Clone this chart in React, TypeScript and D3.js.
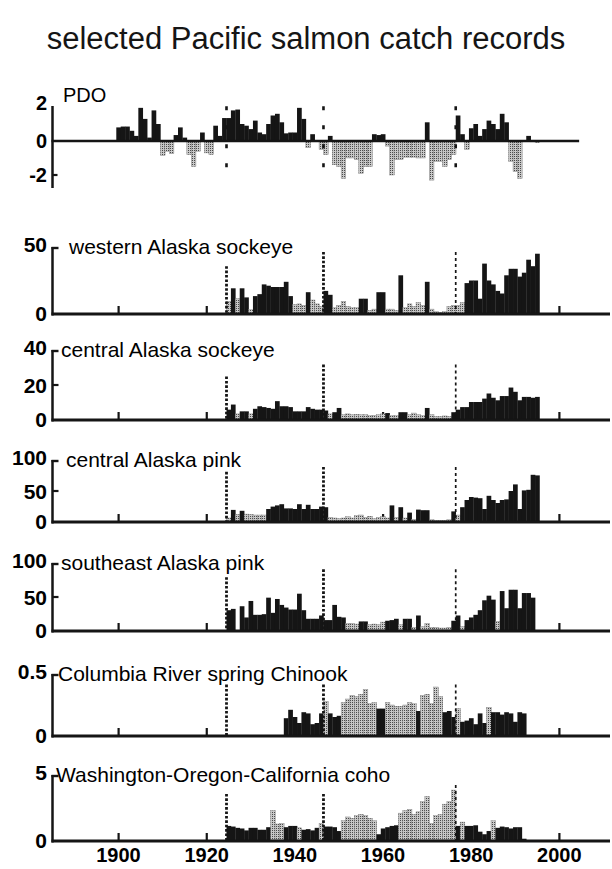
import React from 'react';
import * as d3 from 'd3';

// PDO index, 1900-1995
const pdoStart = 1900;
const pdoValues = [
  0.8, 0.85, 0.85, 0.6, 0.3, 1.95, 1.3, 0.2, 1.8, 1.0,
  -0.85, -0.6, -0.75, 0.35, 0.8, 0.2, -0.8, -1.5, -0.6, 0.5,
  -0.7, -0.8, 0.9, 0.3, 1.35, 1.35, 1.8, 1.85, 1.0, 0.9,
  0.7, 1.2, 0.5, 0.4, 1.0, 1.5, 1.6, 1.1, 0.45, 0.5,
  0.5, 1.95, 1.3, -0.4, 0.4, 0.05, -0.5, -0.8, 0.3, -1.4,
  -1.5, -2.2, -1.0, -1.0, -1.1, -1.9, -1.5, -1.5, 0.4, 0.35,
  0.4, -0.3, -2.0, -1.1, -1.1, -0.95, -0.95, -0.95, -1.0, -1.0,
  1.1, -2.3, -1.2, -1.2, -1.5, -1.1, -0.8, 1.5, 0.4, -0.5,
  0.75, 1.0, 0.3, 0.7, 1.2, 1.0, 0.7, 1.6, 1.1, -1.2,
  -1.8, -2.2, 0, 0.3, -0.05, -0.1
];

// western Alaska sockeye, 1925-1995
const wakStart = 1925;
const wakValues = [
  9, 19, 11, 19, 12, 2.5, 13, 14.5, 22, 21,
  20, 20, 20, 24, 13, 6.5, 7, 6, 16, 10,
  7, 5, 17, 14, 4, 6, 9, 5, 4, 4,
  11, 11, 2, 3, 16, 16, 3, 3, 2, 29,
  4, 7, 5, 8, 6, 24, 3, 1, 0.5, 1,
  5, 6, 6, 8, 23, 25, 25, 11, 38, 25,
  22, 17, 15, 29, 34, 34, 28, 31, 41, 36, 45.6
];
const wakShade = 'LDLDDLDDDD' + 'DDDDDLLLDL' + 'LLDDLLLLLL' + 'DDLLDDLLLD' + 'LLLLLDLLLL' + 'LLLLDDDDDD' + 'DDDDDDDDDDD';

// central Alaska sockeye, 1925-1995
const casStart = 1925;
const casValues = [
  5.5, 8.5, 3, 4.5, 4.5, 3, 6, 7.5, 7, 6.5,
  6, 10.5, 7.5, 7.5, 7, 4.5, 4.5, 4.5, 7, 6,
  5.5, 5.5, 5, 3, 4, 6.5, 2.5, 3, 2.5, 2.8,
  2.5, 2.5, 2, 2.2, 2.5, 3, 3.5, 2, 2, 4,
  4, 2.5, 3.5, 2.5, 2, 6.5, 2.5, 1.5, 1.5, 1.8,
  1.5, 4, 5.5, 7, 7, 10, 10, 10, 12, 15,
  12.5, 11, 13.5, 13.5, 18.5, 16, 11, 13, 13, 12.5, 13
];
const casShade = 'DDLDDLDDDD' + 'DDDDDDDDDD' + 'DDDLDDLLLL' + 'LLLLLLDLLD' + 'DLLLLDLLLL' + 'LDDDDDDDDD' + 'DDDDDDDDDDD';

// central Alaska pink, 1925-1995
const capStart = 1925;
const capValues = [
  5, 18.5, 11, 17, 11.5, 11, 10, 10, 10, 20,
  24, 26, 28, 21, 21, 20, 28, 20, 27, 20,
  20, 24, 23, 6, 5, 4, 5, 7, 5, 9,
  10, 6, 8, 4, 6, 7, 5, 26, 6, 23,
  5, 14, 3, 19, 18, 18, 2, 1, 1, 1,
  2, 16, 10, 23, 35, 40, 39, 38, 20, 42,
  35, 30, 35, 36, 50, 61, 20, 51, 52, 77, 76
];
const capShade = 'LDLDLLLLLD' + 'DDDDDDDDDD' + 'DDDLLLLLLL' + 'LLLLLLLDLD' + 'LDLDDDLLLL' + 'LDLDDDDDDD' + 'DDDDDDDDDDD';

// southeast Alaska pink, 1925-1994
const sepStart = 1925;
const sepValues = [
  30, 32, 0, 36, 19, 44, 23, 23, 24, 49,
  26, 47, 38, 34, 31, 31, 55, 30, 17, 17,
  17, 22, 15, 15, 38, 20, 19, 10, 10, 9,
  13, 13, 8, 9, 8, 12, 14, 15, 17, 8,
  17, 17, 4, 22, 5, 10, 4, 4, 3, 3,
  4, 14, 22, 5, 15, 19, 23, 30, 45, 52,
  46, 13, 59, 33, 61, 61, 33, 56, 56, 49
];
const sepShade = 'DDDDDDDDDD' + 'DDDDDDDDDD' + 'DDDDDDDLLL' + 'DDLLLLDDDL' + 'DDLDLLLLLL' + 'LDDLDDDDDD' + 'DLDDDDDDDD';

// Columbia River spring Chinook, 1938-1992
const chkStart = 1938;
const chkValues = [
  0.14, 0.21, 0.15, 0.10, 0.19, 0.18, 0.09, 0.10, 0.18, 0.28,
  0.18, 0.15, 0.16, 0.27, 0.30, 0.33, 0.32, 0.34, 0.38, 0.26,
  0.27, 0.22, 0.22, 0.27, 0.25, 0.24, 0.24, 0.25, 0.27, 0.26,
  0.20, 0.33, 0.34, 0.26, 0.40, 0.32, 0.19, 0.20, 0.15, 0.22,
  0.11, 0.12, 0.14, 0.09, 0.18, 0.10, 0.23, 0.19, 0.19, 0.17,
  0.19, 0.18, 0.11, 0.19, 0.18
];
const chkShade = 'DDDDDDDDDL' + 'DDDLLLLLLL' + 'LDDLLLLLLL' + 'DLLLLLDDDL' + 'DDDDDDLDDD' + 'DDDDD';

// Washington-Oregon-California coho, 1925-1992
const cohoStart = 1925;
const cohoValues = [
  1.1, 1.05, 0.95, 0.9, 0.75, 0.95, 0.95, 0.8, 0.8, 1.0,
  2.3, 1.25, 1.3, 1.0, 1.1, 1.1, 0.95, 0.8, 0.85, 0.75,
  0.95, 1.3, 1.05, 1.05, 1.0, 0.7, 1.5, 1.8, 1.7, 1.9,
  2.0, 1.9, 1.7, 1.5, 0.45, 0.9, 1.0, 1.1, 1.15, 2.1,
  2.3, 2.4, 2.0, 2.2, 3.0, 3.4, 1.3, 1.9, 2.0, 2.8,
  3.0, 3.9, 1.1, 1.4, 1.1, 1.1, 1.15, 0.65, 0.45, 0.7,
  1.5, 0.95, 1.05, 1.0, 0.9, 1.0, 1.0, 0.1
];
const cohoShade = 'DDDDDDDDDD' + 'LLLDDDLDDD' + 'DLDDDDLLLL' + 'LLLLDDDDDL' + 'LLLLLLLLLL' + 'LLDLDDDDDD' + 'LDDDDDDD';

const xTicks = [1900, 1920, 1940, 1960, 1980, 2000];
const regimeYears = [1924.5, 1946.5, 1976.5];

const W = 612;
const H = 869;
const ink = '#151515';
const font = '"Liberation Sans", Arial, Helvetica, sans-serif';

const x = d3.scaleLinear().domain([1884.8, 2011.5]).range([51.5, 610]);
const axisX = 52.5;

const panels = [
  { label: 'western Alaska sockeye', labelX: 69, start: wakStart, values: wakValues, shade: wakShade,
    max: 50, ticks: [50, 0], yTop: 248, yBase: 313, dashTops: [36, 47, 47] },
  { label: 'central Alaska sockeye', labelX: 61, start: casStart, values: casValues, shade: casShade,
    max: 40, ticks: [40, 20, 0], yTop: 351, yBase: 419, dashTops: [25, 32, 32] },
  { label: 'central Alaska pink', labelX: 66, start: capStart, values: capValues, shade: capShade,
    max: 100, ticks: [100, 50, 0], yTop: 461, yBase: 521, dashTops: [82, 90, 90] },
  { label: 'southeast Alaska pink', labelX: 61, start: sepStart, values: sepValues, shade: sepShade,
    max: 100, ticks: [100, 50, 0], yTop: 564, yBase: 630, dashTops: [80, 92, 92] },
  { label: 'Columbia River spring Chinook', labelX: 58, start: chkStart, values: chkValues, shade: chkShade,
    max: 0.5, ticks: [0.5, 0], yTop: 675, yBase: 735, dashTops: [0.42, 0.42, 0.42] },
  { label: 'Washington-Oregon-California coho', labelX: 56, start: cohoStart, values: cohoValues, shade: cohoShade,
    max: 5, ticks: [5, 0], yTop: 776, yBase: 840, dashTops: [3.6, 3.6, 4.3] }
];

function RegimeLine({ xp, y1, y2, k }: { xp: number; y1: number; y2: number; k: number }) {
  const thin = k === 2;
  return (
    <line x1={xp} x2={xp} y1={y1} y2={y2} stroke={ink}
      strokeWidth={thin ? 1.7 : 2.8} strokeDasharray={thin ? '3 3' : '2.6 1.8'} />
  );
}

function PdoPanel() {
  const y = d3.scaleLinear().domain([-2, 2]).range([175, 107]);
  const y0 = y(0);
  return (
    <g>
      {pdoValues.map((v, i) => {
        const yr = pdoStart + i;
        const x0 = x(yr - 0.5);
        const w = x(yr + 0.5) - x0 + 0.3;
        const top = Math.min(y(v), y0);
        const h = Math.abs(y(v) - y0);
        return <rect key={yr} x={x0} y={top} width={w} height={h}
          fill={v >= 0 ? ink : 'url(#stip)'} stroke={v >= 0 ? 'none' : '#777'} strokeWidth={0.4} />;
      })}
      {regimeYears.map((yr) => (
        <line key={yr} x1={x(yr)} x2={x(yr)} y1={y(2.05)} y2={y(-2.3)} stroke={ink}
          strokeWidth={2.6} strokeDasharray="4 15" />
      ))}
      <line x1={x(1884.8)} x2={x(2004.5)} y1={y0} y2={y0} stroke={ink} strokeWidth={2.6} />
      <line x1={axisX} x2={axisX} y1={y(2) - 1} y2={y(-2) + 13} stroke={ink} strokeWidth={2.5} />
      <line x1={axisX} x2={axisX + 5} y1={y(-2)} y2={y(-2)} stroke={ink} strokeWidth={2.2} />
      <text x={47} y={y(2) - 4} textAnchor="end" dominantBaseline="central" fontSize={20} fontWeight="bold">2</text>
      <text x={47} y={y0} textAnchor="end" dominantBaseline="central" fontSize={20} fontWeight="bold">0</text>
      <text x={47} y={y(-2)} textAnchor="end" dominantBaseline="central" fontSize={20} fontWeight="bold">-2</text>
      <text x={63} y={95} dominantBaseline="central" fontSize={20}>PDO</text>
    </g>
  );
}

function SalmonPanel({ p }: { p: typeof panels[number] }) {
  const y = d3.scaleLinear().domain([0, p.max]).range([p.yBase, p.yTop]);
  return (
    <g>
      {xTicks.map((t) => (
        <rect key={t} x={x(t) - 1} y={p.yBase - 7} width={2.2} height={7} fill={ink} />
      ))}
      {p.values.map((v, i) => {
        const yr = p.start + i;
        const x0 = x(yr - 0.5);
        const w = x(yr + 0.5) - x0 + 0.3;
        const dark = p.shade[i] === 'D';
        return <rect key={yr} x={x0} y={y(v)} width={w} height={p.yBase - y(v)}
          fill={dark ? ink : 'url(#stip)'} stroke={dark ? 'none' : '#777'} strokeWidth={0.4} />;
      })}
      {regimeYears.map((yr, k) => (
        <RegimeLine key={yr} xp={x(yr)} y1={y(p.dashTops[k])} y2={p.yBase} k={k} />
      ))}
      <line x1={x(1884.8)} x2={x(2011.5)} y1={p.yBase + 1} y2={p.yBase + 1} stroke={ink} strokeWidth={3} />
      <line x1={axisX} x2={axisX} y1={p.yTop - 1} y2={p.yBase + 2.5} stroke={ink} strokeWidth={2.5} />
      <line x1={axisX - 1} x2={axisX + 6} y1={p.yTop} y2={p.yTop} stroke={ink} strokeWidth={2.4} />
      {p.ticks.filter((t) => t !== 0 && t !== p.max).map((t) => (
        <line key={t} x1={axisX} x2={axisX + 6} y1={y(t)} y2={y(t)} stroke={ink} strokeWidth={2.2} />
      ))}
      {p.ticks.map((t) => (
        <text key={t} x={47} y={t === p.max ? y(t) - 4 : y(t)} textAnchor="end" dominantBaseline="central"
          fontSize={21} fontWeight="bold">{t}</text>
      ))}
      <text x={p.labelX} y={p.yTop - 2} dominantBaseline="central" fontSize={21}>{p.label}</text>
    </g>
  );
}

export default function App() {
  const bottom = panels[panels.length - 1].yBase;
  return (
    <svg width={W} height={H} fontFamily={font}
      style={{ position: 'absolute', left: 0, top: 0, background: '#fff' }}>
      <defs>
        <pattern id="stip" width={2} height={2} patternUnits="userSpaceOnUse">
          <rect width={2} height={2} fill="#c8c8c8" />
          <rect width={1} height={1} fill="#4a4a4a" />
        </pattern>
      </defs>
      <rect width={W} height={H} fill="#fff" />
      <text x={306} y={49} textAnchor="middle" fontSize={31} fill={ink}>
        selected Pacific salmon catch records
      </text>
      <PdoPanel />
      {panels.map((p) => <SalmonPanel key={p.label} p={p} />)}
      {xTicks.map((t) => (
        <text key={t} x={x(t)} y={bottom + 15} textAnchor="middle" dominantBaseline="central"
          fontSize={20} fontWeight="bold">{t}</text>
      ))}
    </svg>
  );
}
